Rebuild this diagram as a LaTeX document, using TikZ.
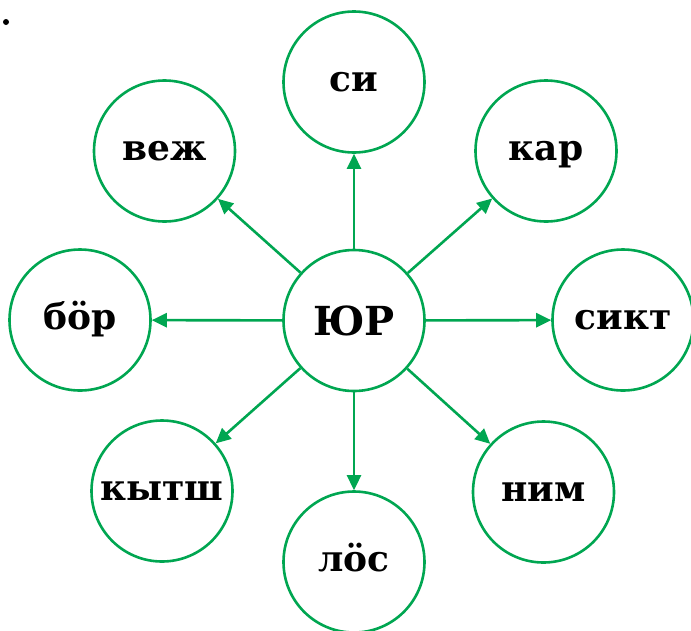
\documentclass[tikz,border=0pt]{standalone}
\usepackage{fontspec}
\setmainfont{DejaVu Serif}
\usetikzlibrary{arrows.meta}
\definecolor{grn}{RGB}{0,166,81}
\tikzset{
  bubble/.style={circle, draw=grn, line width=2.6pt, minimum size=141pt, inner sep=0pt,
    font=\fontsize{36}{36}\selectfont\bfseries, text height=18.7pt, text depth=0pt},
  hub/.style={bubble, font=\fontsize{40}{40}\selectfont\bfseries, text height=29pt},
  link/.style={draw=grn, line width=2.6pt, -{Triangle[length=15pt,width=14pt]}}
}
\begin{document}
\begin{tikzpicture}[x=1pt,y=-1pt]
\useasboundingbox (0,0) rectangle (691,630);
\node[hub] (c) at (354,320.5) {ЮР};
\node[bubble] (si) at (354,82) {си};
\node[bubble] (vezh) at (164.5,151) {веж};
\node[bubble] (kar) at (546,151) {кар};
\node[bubble] (bor) at (80,320) {бӧр};
\node[bubble] (sikt) at (623,320) {сикт};
\node[bubble] (kytsh) at (162,491) {кытш};
\node[bubble] (nim) at (543.5,492) {ним};
\node[bubble] (los) at (354,562) {лӧс};
\node[circle, fill=black, inner sep=0pt, minimum size=6pt] (dot) at (6,22) {};
\foreach \t in {si,vezh,kar,bor,sikt,kytsh,nim,los}
  \draw[link] (c) -- (\t);
\end{tikzpicture}
\end{document}
